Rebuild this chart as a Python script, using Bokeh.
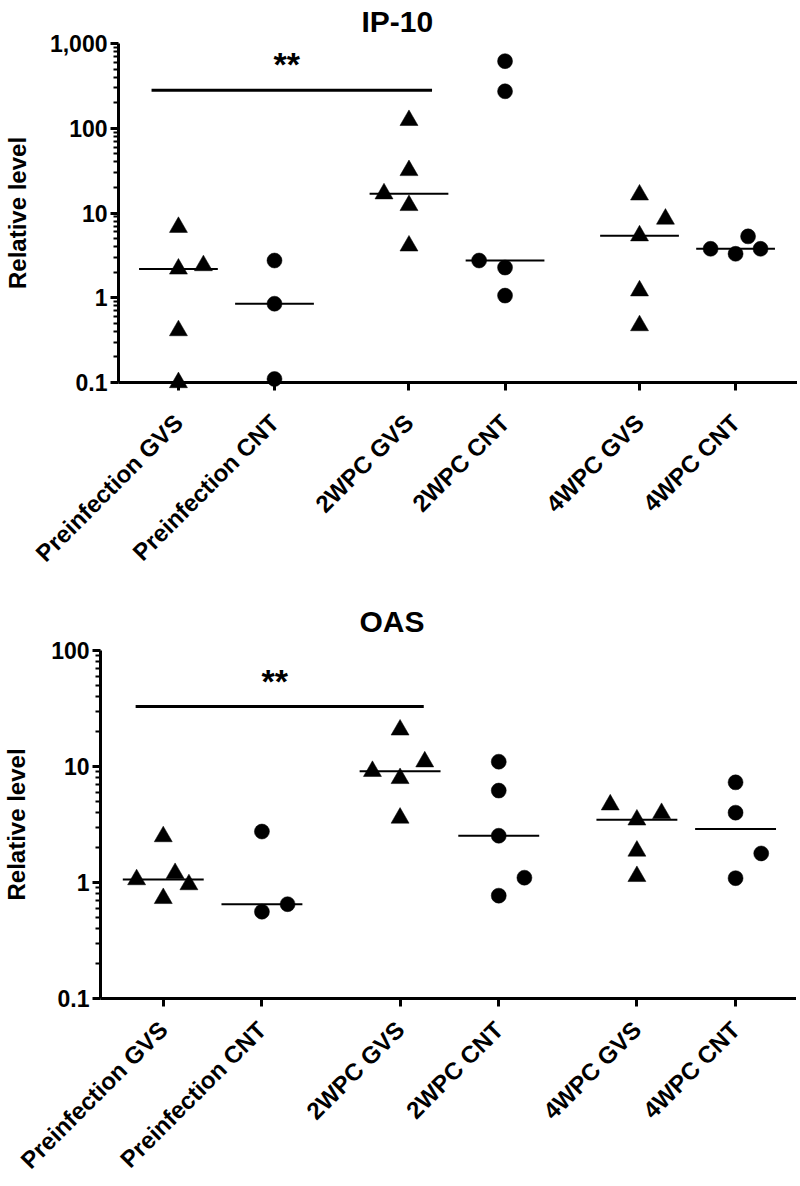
import numpy as np
from math import pi
from bokeh.plotting import figure
from bokeh.models import FixedTicker, NumeralTickFormatter, Range1d, Label, ColumnDataSource, Title
from bokeh.embed import file_html
from bokeh.resources import INLINE

FONT = "Liberation Sans"

# ---------------- data ----------------
groups = ["Preinfection GVS", "Preinfection CNT", "2WPC GVS", "2WPC CNT", "4WPC GVS", "4WPC CNT"]
group_x = [1, 2, 3.4, 4.4, 5.8, 6.8]
group_marker = ["triangle", "circle", "triangle", "circle", "triangle", "circle"]

# IP-10 relative levels
ip10_pre_gvs = [6.8, 2.19, 2.4, 0.41, 0.1]
ip10_pre_cnt = [2.75, 0.85, 0.11]
ip10_2w_gvs = [124, 31.8, 16.9, 12.3, 4.1]
ip10_2w_cnt = [619, 273, 2.75, 2.27, 1.06]
ip10_4w_gvs = [16.4, 8.5, 5.4, 1.21, 0.47]
ip10_4w_cnt = [3.78, 3.3, 5.3, 3.78]
# horizontal scatter offsets (category units) as drawn in the figure
ip10_pre_gvs_dx = [0, 0, 0.26, 0, 0]
ip10_pre_cnt_dx = [0, 0, 0]
ip10_2w_gvs_dx = [0, 0, -0.26, 0, 0]
ip10_2w_cnt_dx = [0, 0, -0.27, 0, 0]
ip10_4w_gvs_dx = [0, 0.27, 0, 0, 0]
ip10_4w_cnt_dx = [-0.26, 0, 0.13, 0.26]

# OAS relative levels
oas_pre_gvs = [2.49, 1.06, 1.2, 0.96, 0.73]
oas_pre_cnt = [2.75, 0.56, 0.65]
oas_2w_gvs = [20.7, 9.1, 7.9, 11.0, 3.6]
oas_2w_cnt = [11.0, 6.2, 2.53, 1.1, 0.77]
oas_4w_gvs = [4.68, 3.47, 3.95, 1.87, 1.13]
oas_4w_cnt = [7.3, 4.0, 1.78, 1.09]
oas_pre_gvs_dx = [0, -0.27, 0.12, 0.26, 0]
oas_pre_cnt_dx = [0, 0, 0.26]
oas_2w_gvs_dx = [0, -0.28, 0, 0.25, 0]
oas_2w_cnt_dx = [0, 0, 0, 0.26, 0]
oas_4w_gvs_dx = [-0.27, 0, 0.25, 0, 0]
oas_4w_cnt_dx = [0, 0, 0.26, 0]

ip10_sig_y = 281
oas_sig_y = 32.9
sig_text = "**"

ip10_yticks = [0.1, 1, 10, 100, 1000]
oas_yticks = [0.1, 1, 10, 100]


def make_panel(title, vals, dxs, yticks, sig_y, width, frame_h, b_left, b_top, b_bottom,
               xstart, unit, title_offset, title_standoff, ylabel_standoff, xlabel_standoff):
    ymax = yticks[-1]
    frame_w = width - b_left
    p = figure(width=width, frame_height=frame_h,
               x_range=Range1d(xstart, xstart + frame_w / unit), y_range=Range1d(yticks[0], ymax),
               y_axis_type="log", output_backend="svg", toolbar_location=None,
               min_border_left=b_left, min_border_right=0, min_border_top=b_top,
               min_border_bottom=b_bottom)
    p.title = Title(text=title, align="left", offset=title_offset, standoff=title_standoff,
                    vertical_align="top", text_line_height=1.0,
                    text_font=FONT, text_font_style="bold", text_font_size="30px",
                    text_color="black")
    p.outline_line_color = None
    p.xgrid.grid_line_color = None
    p.ygrid.grid_line_color = None
    p.background_fill_color = "white"

    for ax in (p.xaxis[0], p.yaxis[0]):
        ax.axis_line_width = 3
        ax.axis_line_color = "black"
        ax.major_tick_line_width = 3
        ax.major_tick_line_color = "black"
        ax.major_tick_out = 8
        ax.major_tick_in = 0
        ax.major_label_text_font = FONT
        ax.major_label_text_font_style = "bold"
        ax.major_label_text_color = "black"

    ya = p.yaxis[0]
    minors = [m * 10.0 ** e for e in range(int(np.log10(yticks[0])), int(np.log10(ymax)))
              for m in range(2, 10)]
    ya.ticker = FixedTicker(ticks=yticks, minor_ticks=minors)
    ya.formatter = NumeralTickFormatter(format="0,0.[0]")
    ya.major_label_text_font_size = "23px"
    ya.major_label_standoff = 3
    ya.minor_tick_out = 5
    ya.minor_tick_in = 0
    ya.minor_tick_line_width = 2
    ya.minor_tick_line_color = "black"
    ya.axis_label = "Relative level"
    ya.axis_label_text_font = FONT
    ya.axis_label_text_font_style = "bold"
    ya.axis_label_text_font_size = "24px"
    ya.axis_label_text_color = "black"
    ya.axis_label_standoff = ylabel_standoff

    xa = p.xaxis[0]
    xa.ticker = FixedTicker(ticks=group_x)
    xa.major_label_overrides = {gx: g for gx, g in zip(group_x, groups)}
    xa.major_label_orientation = pi / 4
    xa.major_label_text_font_size = "24px"
    xa.major_label_standoff = xlabel_standoff
    xa.minor_tick_line_color = None

    for gx, mk, v, dx in zip(group_x, group_marker, vals, dxs):
        src = ColumnDataSource(dict(x=[gx + d for d in dx], y=v))
        size = 18 if mk == "triangle" else 15
        r = p.scatter("x", "y", source=src, marker=mk, size=size,
                      fill_color="black", line_color="black", line_width=0.5)
        r.level = "overlay"
        med = float(np.median(v))
        p.segment(x0=[gx - 0.41], y0=[med], x1=[gx + 0.41], y1=[med],
                  line_color="black", line_width=2)

    # significance bar between Preinfection GVS and 2WPC GVS
    x0 = group_x[0] - 0.28
    x1 = group_x[2] + 0.24
    p.segment(x0=[x0], y0=[sig_y], x1=[x1], y1=[sig_y], line_color="black", line_width=3)
    p.add_layout(Label(x=(x0 + x1) / 2, y=sig_y, text=sig_text, x_offset=-5, y_offset=26,
                       text_align="center", text_baseline="alphabetic",
                       text_font=FONT, text_font_style="bold", text_font_size="34px",
                       text_color="black"))
    return p


ip10_vals = [ip10_pre_gvs, ip10_pre_cnt, ip10_2w_gvs, ip10_2w_cnt, ip10_4w_gvs, ip10_4w_cnt]
ip10_dxs = [ip10_pre_gvs_dx, ip10_pre_cnt_dx, ip10_2w_gvs_dx, ip10_2w_cnt_dx, ip10_4w_gvs_dx, ip10_4w_cnt_dx]
oas_vals = [oas_pre_gvs, oas_pre_cnt, oas_2w_gvs, oas_2w_cnt, oas_4w_gvs, oas_4w_cnt]
oas_dxs = [oas_pre_gvs_dx, oas_pre_cnt_dx, oas_2w_gvs_dx, oas_2w_cnt_dx, oas_4w_gvs_dx, oas_4w_cnt_dx]

p1 = make_panel("IP-10", ip10_vals, ip10_dxs, ip10_yticks, ip10_sig_y,
                width=797, frame_h=339, b_left=117, b_top=43, b_bottom=200,
                xstart=0.376, unit=96.2, title_offset=243, title_standoff=8,
                ylabel_standoff=16, xlabel_standoff=28)
p2 = make_panel("OAS", oas_vals, oas_dxs, oas_yticks, oas_sig_y,
                width=796, frame_h=348, b_left=97, b_top=68, b_bottom=180,
                xstart=0.364, unit=99.1, title_offset=259, title_standoff=21,
                ylabel_standoff=18, xlabel_standoff=19)

open("out.html", "w").write(file_html([p1, p2], INLINE))
